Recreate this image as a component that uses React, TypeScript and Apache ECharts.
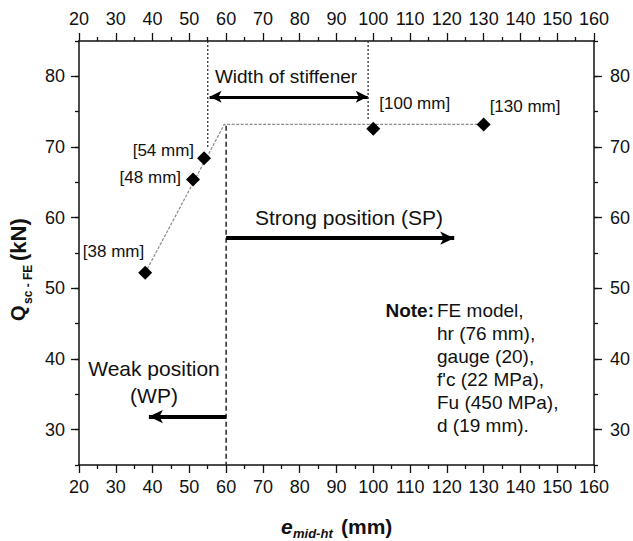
import React, { useEffect, useRef } from "react";
import * as echarts from "echarts";

// ---- data ----
const xMin = 20;
const xMax = 160;
const yMin = 25;
const yMax = 85;
const yMajorTicks = [30, 40, 50, 60, 70, 80];

const pointX = [38, 51, 54, 100, 130];
const pointY = [52.2, 65.4, 68.4, 72.6, 73.2];
const pointLabels = ["[38 mm]", "[48 mm]", "[54 mm]", "[100 mm]", "[130 mm]"];

const fitX = [38, 59.5, 130];
const fitY = [52.2, 73.2, 73.2];

const boundaryX = [60, 60];
const boundaryY = [73, 25];

const stiffLeftX = [55, 55];
const stiffLeftY = [85, 70];
const stiffRightX = [98.6, 98.6];
const stiffRightY = [85, 73.8];

const strongArrowX = [60, 122];
const strongArrowY = [57.1, 57.1];
const weakArrowX = [60, 39];
const weakArrowY = [31.85, 31.85];
const widthArrowX = [55.5, 98.5];
const widthArrowY = [77.1, 77.1];

const FONT = '"Liberation Sans", Arial, Helvetica, sans-serif';
const INK = "#111";
const TXT = "#111";

function xAxis(position: string) {
  return {
    type: "value",
    position,
    min: xMin,
    max: xMax,
    interval: 10,
    axisLine: { show: true, onZero: false, lineStyle: { color: INK, width: 1.5 } },
    axisTick: { show: true, inside: false, length: 8, lineStyle: { color: INK, width: 1.3 } },
    minorTick: { show: true, splitNumber: 2, length: 4, lineStyle: { color: INK, width: 1.3 } },
    axisLabel: { fontSize: 18, color: TXT, margin: 13, fontFamily: FONT },
    splitLine: { show: false },
    minorSplitLine: { show: false },
  };
}

function yMinorAxis(position: string) {
  return {
    type: "value",
    position,
    min: yMin,
    max: yMax,
    interval: 5,
    axisLine: { show: true, onZero: false, lineStyle: { color: INK, width: 1.5 } },
    axisTick: { show: true, inside: false, length: 4, lineStyle: { color: INK, width: 1.3 } },
    axisLabel: { show: false },
    splitLine: { show: false },
  };
}

function yMajorAxis(position: string) {
  return {
    type: "value",
    position,
    min: yMin,
    max: yMax,
    axisLine: { show: false, onZero: false },
    axisTick: {
      show: true,
      inside: false,
      length: 8,
      customValues: yMajorTicks,
      lineStyle: { color: INK, width: 1.3 },
    },
    axisLabel: {
      show: true,
      customValues: yMajorTicks,
      fontSize: 18,
      color: TXT,
      margin: position === "left" ? 14 : 16,
      fontFamily: FONT,
    },
    splitLine: { show: false },
  };
}

function pairs(xs: number[], ys: number[]) {
  return xs.map((x, i) => [x, ys[i]]);
}

const labelPlacement = [
  { position: "left", offset: [11, -21] },
  { position: "left", offset: [0, -2] },
  { position: "left", offset: [2, -8] },
  { position: "right", offset: [-6, -25] },
  { position: "right", offset: [-6, -18] },
];

function arrowLine(xs: number[], ys: number[], startSym: string, width: number, size: number[]) {
  return [
    { coord: [xs[0], ys[0]], symbol: startSym, symbolSize: size },
    {
      coord: [xs[1], ys[1]],
      symbol: "arrow",
      symbolSize: size,
      lineStyle: { color: "#000", width, type: "solid" },
    },
  ];
}

function txt(x: number, y: number, text: string, size: number, align: string, extra: any = {}) {
  return {
    type: "text",
    x,
    y,
    style: {
      text,
      fontSize: size,
      fontFamily: FONT,
      fill: TXT,
      textAlign: align,
      textVerticalAlign: "middle",
      ...extra,
    },
  };
}

export default function App() {
  const ref = useRef<HTMLDivElement>(null);

  useEffect(() => {
    if (!ref.current) return;
    const chart = echarts.init(ref.current, null, { renderer: "svg" });

    const option: any = {
      animation: false,
      textStyle: { fontFamily: FONT },
      grid: { left: 79, right: 37, top: 41, bottom: 76, containLabel: false },
      xAxis: [xAxis("bottom"), xAxis("top")],
      yAxis: [yMinorAxis("left"), yMajorAxis("left"), yMinorAxis("right"), yMajorAxis("right")],
      series: [
        {
          type: "line",
          name: "fit",
          data: pairs(fitX, fitY),
          symbol: "none",
          silent: true,
          lineStyle: { color: "#8a8a8a", width: 1.2, type: [3, 1.5] },
          z: 2,
        },
        {
          type: "line",
          name: "boundary",
          data: pairs(boundaryX, boundaryY),
          symbol: "none",
          silent: true,
          lineStyle: { color: "#333", width: 1.6, type: [5, 3] },
          z: 2,
        },
        {
          type: "line",
          name: "stiffL",
          data: pairs(stiffLeftX, stiffLeftY),
          symbol: "none",
          silent: true,
          lineStyle: { color: "#333", width: 1.3, type: [2, 2] },
          z: 2,
        },
        {
          type: "line",
          name: "stiffR",
          data: pairs(stiffRightX, stiffRightY),
          symbol: "none",
          silent: true,
          lineStyle: { color: "#333", width: 1.3, type: [2, 2] },
          z: 2,
        },
        {
          type: "scatter",
          name: "FE",
          symbol: "diamond",
          symbolSize: 14,
          itemStyle: { color: "#000", opacity: 1 },
          z: 5,
          data: pointX.map((x, i) => ({
            value: [x, pointY[i]],
            label: {
              show: true,
              position: labelPlacement[i].position,
              distance: 5,
              formatter: pointLabels[i],
              offset: labelPlacement[i].offset,
              fontSize: 17,
              color: "#111",
              opacity: 1,
              fontFamily: FONT,
            },
          })),
        },
        {
          type: "line",
          name: "arrows",
          data: [],
          symbol: "none",
          markLine: {
            silent: true,
            animation: false,
            label: { show: false },
            lineStyle: { color: "#000", type: "solid" },
            data: [
              arrowLine(strongArrowX, strongArrowY, "none", 4, [10, 14]),
              arrowLine(weakArrowX, weakArrowY, "none", 4, [10, 14]),
              arrowLine(widthArrowX, widthArrowY, "arrow", 3, [9, 12]),
            ],
          },
        },
      ],
      graphic: [
        txt(286, 76, "Width of stiffener", 19, "center"),
        txt(255, 217, "Strong position (SP)", 21, "left"),
        txt(154, 368, "Weak position", 21, "center"),
        txt(154, 395, "(WP)", 21, "center"),
        txt(434, 310, "Note:", 19, "right", { fontWeight: "bold" }),
        {
          type: "text",
          x: 437,
          y: 298.5,
          style: {
            text: "FE model,\nhr (76 mm),\ngauge (20),\nf'c (22 MPa),\nFu (450 MPa),\nd (19 mm).",
            fontSize: 19,
            lineHeight: 23,
            fontFamily: FONT,
            fill: TXT,
            textAlign: "left",
            textVerticalAlign: "top",
          },
        },
        // x-axis title
        txt(281, 526, "e", 21, "left", { fontWeight: "bold", fontStyle: "italic" }),
        txt(293, 533, "mid-ht", 13, "left", { fontWeight: "bold", fontStyle: "italic" }),
        txt(341, 526, "(mm)", 21, "left", { fontWeight: "bold" }),
        // y-axis title (rotated)
        {
          type: "group",
          x: 18,
          y: 321,
          rotation: Math.PI / 2,
          children: [
            txt(0, 0, "Q", 20, "left", { fontWeight: "bold" }),
            txt(17, 10, "sc - FE", 12, "left", { fontWeight: "bold" }),
            txt(60, 0, "(kN)", 22, "left", { fontWeight: "bold" }),
          ],
        },
      ],
    };

    chart.setOption(option);
    return () => chart.dispose();
  }, []);

  return (
    <div
      ref={ref}
      style={{ position: "fixed", left: 0, top: 0, width: 633, height: 541, background: "#fff" }}
    />
  );
}
